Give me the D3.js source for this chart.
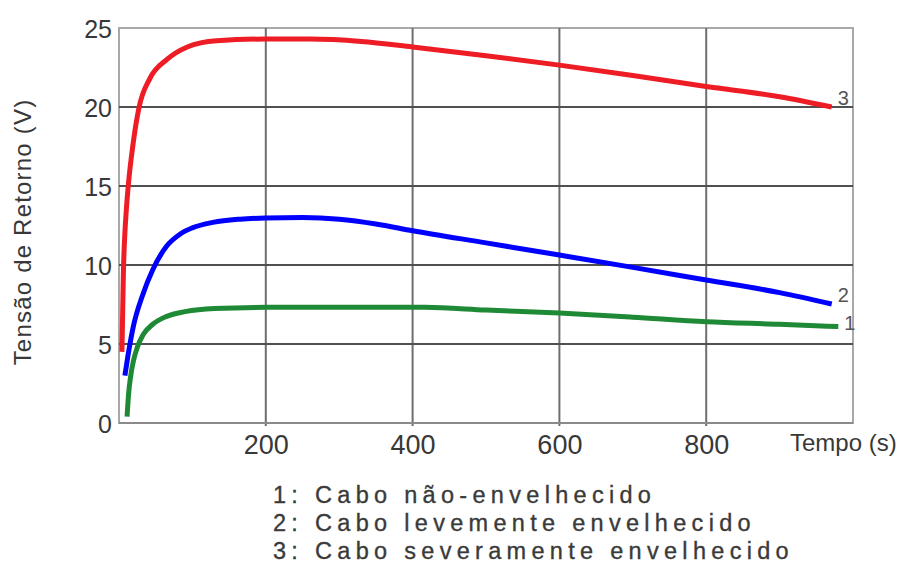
<html>
<head>
<meta charset="utf-8">
<script src="https://cdn.jsdelivr.net/npm/d3@7"></script>
<style>
  body { margin: 0; background: #fff; }
  text { font-family: "Liberation Sans", Arial, sans-serif; }
  .tick text { fill: #383838; }
</style>
</head>
<body>
<script>
// curve 3 - cabo severamente envelhecido
var t3 = [4, 5, 6, 8, 10, 13, 19, 27, 42, 65, 93, 133, 200, 260, 330, 400, 500, 600, 700, 800, 900, 971];
var v3 = [4.5, 7, 9.5, 12, 13.5, 15.2, 17.6, 19.9, 21.8, 23.0, 23.8, 24.2, 24.3, 24.3, 24.15, 23.8, 23.25, 22.65, 22.0, 21.3, 20.65, 20.0];
// curve 2 - cabo levemente envelhecido
var t2 = [8, 12, 19, 33, 46, 65, 83, 100, 128, 165, 200, 250, 300, 350, 400, 500, 600, 700, 800, 900, 971];
var v2 = [3.0, 4.2, 6.0, 8.2, 9.7, 11.2, 11.95, 12.35, 12.7, 12.9, 12.97, 13.0, 12.9, 12.6, 12.17, 11.4, 10.63, 9.85, 9.05, 8.25, 7.53];
// curve 1 - cabo nao-envelhecido
var t1 = [11, 13, 16, 20, 25, 33, 46, 65, 90, 130, 200, 300, 417, 500, 600, 700, 800, 900, 980];
var v1 = [0.4, 1.8, 3.0, 4.0, 4.8, 5.6, 6.25, 6.75, 7.05, 7.25, 7.32, 7.33, 7.32, 7.15, 6.96, 6.7, 6.41, 6.25, 6.1];

var xTicks = [200, 400, 600, 800];
var yTicks = [0, 5, 10, 15, 20, 25];
var legendLines = ['1: Cabo não-envelhecido', '2: Cabo levemente envelhecido', '3: Cabo severamente envelhecido'];

var margin = {top: 28, left: 119};
var width = 734, height = 395;

var svg = d3.select('body').append('svg')
  .attr('width', 904).attr('height', 568);
var g = svg.append('g')
  .attr('transform', 'translate(' + margin.left + ',' + margin.top + ')');

var x = d3.scaleLinear().domain([0, 1000]).range([0, width]);
var y = d3.scaleLinear().domain([0, 25]).range([height, 0]);

// frame
g.append('rect')
  .attr('width', width).attr('height', height)
  .attr('fill', 'none').attr('stroke', '#a8a8a8').attr('stroke-width', 2);

// grid
g.selectAll('.vgrid').data(xTicks).enter().append('line')
  .attr('x1', d => x(d)).attr('x2', d => x(d))
  .attr('y1', 0).attr('y2', height + 3)
  .attr('stroke', '#6e6e6e').attr('stroke-width', 2);
g.selectAll('.hgrid').data(yTicks.slice(1, -1)).enter().append('line')
  .attr('x1', 0).attr('x2', width)
  .attr('y1', d => y(d)).attr('y2', d => y(d))
  .attr('stroke', '#505050').attr('stroke-width', 2);
g.append('line')
  .attr('x1', 0).attr('x2', width).attr('y1', height).attr('y2', height)
  .attr('stroke', '#8a8a8a').attr('stroke-width', 2);

// axes (labels only)
var yAxis = g.append('g')
  .call(d3.axisLeft(y).tickValues(yTicks).tickSize(0).tickPadding(7));
yAxis.select('.domain').remove();
yAxis.selectAll('text').style('font-size', '25px').attr('dy', '0.36em');

var xAxis = g.append('g')
  .attr('transform', 'translate(0,' + height + ')')
  .call(d3.axisBottom(x).tickValues(xTicks).tickSize(0).tickPadding(12));
xAxis.select('.domain').remove();
xAxis.selectAll('text').style('font-size', '27px');

svg.append('text')
  .attr('x', 790).attr('y', 451)
  .style('font-size', '24px').attr('fill', '#383838')
  .text('Tempo (s)');

svg.append('text')
  .attr('transform', 'translate(31,232) rotate(-90)')
  .attr('text-anchor', 'middle')
  .style('font-size', '24px').style('letter-spacing', '1.2px')
  .attr('fill', '#383838')
  .text('Tensão de Retorno (V)');

// curves
var series = [
  {name: '1', t: t1, v: v1, color: '#1f8a35', dy: 3},
  {name: '2', t: t2, v: v2, color: '#0000ff', dy: -2},
  {name: '3', t: t3, v: v3, color: '#ee1c24', dy: -2}
];
var line = d3.line()
  .x(d => x(d[0])).y(d => y(d[1]))
  .curve(d3.curveMonotoneX);

series.forEach(function(s) {
  var pts = s.t.map((d, i) => [d, s.v[i]]);
  g.append('path')
    .datum(pts)
    .attr('d', line)
    .attr('fill', 'none')
    .attr('stroke', s.color)
    .attr('stroke-width', 5);
  var last = pts[pts.length - 1];
  g.append('text')
    .attr('x', x(last[0]) + 6).attr('y', y(last[1]) + s.dy)
    .style('font-size', '20px').attr('fill', '#555')
    .text(s.name);
});

// legend
svg.selectAll('.legend').data(legendLines).enter().append('text')
  .attr('class', 'legend')
  .attr('x', 273).attr('y', (d, i) => 503 + i * 28)
  .style('font-size', '23.5px').style('letter-spacing', '5.3px')
  .attr('fill', '#3a3a3a')
  .attr('stroke', '#3a3a3a').attr('stroke-width', 0.35)
  .text(d => d);
</script>
</body>
</html>
